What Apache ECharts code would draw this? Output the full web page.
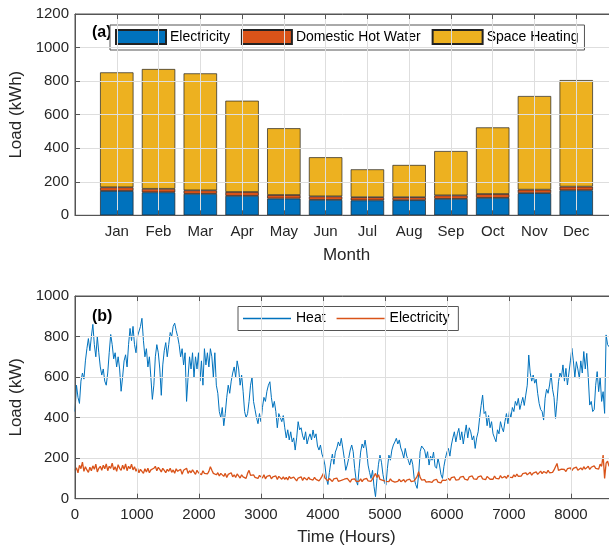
<!DOCTYPE html>
<html>
<head>
<meta charset="utf-8">
<script src="https://cdn.jsdelivr.net/npm/echarts/dist/echarts.min.js"></script>
<style>
html,body{margin:0;padding:0;background:#fff;}
#chart{width:609px;height:552px;}
</style>
</head>
<body>
<div id="chart"></div>
<script>
// ---- Panel (a): monthly loads (kWh) ----
const months = ["Jan","Feb","Mar","Apr","May","Jun","Jul","Aug","Sep","Oct","Nov","Dec"];
const electricity = [145,137,128,116,100,92,89,90,98,104,132,149];
const hotWater    = [22,21,21,23,21,21,19,18,21,23,21,22];
const spaceHeating= [685,714,697,544,398,233,166,192,264,397,558,635];

// ---- Panel (b): hourly profile, read every 24 h (kW) ----
const stepHours = 24;
const heatLoad = [
430,560,500,470,580,620,590,680,740,790,
730,800,860,760,700,800,720,650,610,640,
580,560,620,720,810,760,690,720,650,700,
640,530,600,680,710,650,760,840,780,850,
760,720,800,800,850,890,780,700,740,650,
700,600,490,560,700,760,720,640,510,660,
730,770,700,760,820,800,850,866,830,800,
760,700,740,660,720,480,600,700,640,720,
600,700,640,720,580,680,560,740,660,720,
650,740,700,600,720,560,520,430,400,450,
360,420,500,560,520,580,620,650,600,680,
640,560,610,530,430,400,420,480,560,600,
480,440,400,370,420,380,450,500,480,530,
560,577,500,450,480,430,350,420,400,380,
410,350,300,340,290,330,280,300,240,300,
380,340,350,310,290,330,270,300,320,290,
339,300,320,260,240,265,220,200,166,100,
70,130,180,220,170,230,250,280,260,298,
250,200,140,166,200,240,265,232,150,90,
67,150,230,270,250,289,240,166,130,100,
140,60,10,100,170,215,180,120,80,67,
150,215,190,240,265,280,298,270,290,250,
230,200,248,210,190,166,200,170,100,70,
51,120,232,260,268,240,200,232,166,210,
190,230,160,150,200,166,120,100,160,200,
230,248,210,265,300,330,280,320,347,290,
330,270,320,364,300,350,330,290,310,248,
300,330,400,460,511,420,430,360,410,350,
380,320,300,281,340,320,380,350,330,380,
420,370,430,400,450,430,480,460,495,440,
470,500,460,511,560,709,620,580,610,570,
590,520,470,440,430,388,495,540,520,561,
618,540,500,396,480,577,620,600,660,580,
643,561,620,680,742,680,600,676,640,594,
680,620,726,640,717,600,462,480,430,440,
560,627,528,600,480,528,421,808,760,750,
780,720,790,760,800,780
];
const elecLoad = [
140,152,128,165,148,180,135,158,142,130,
155,138,162,145,170,132,150,160,140,165,
148,172,138,160,150,175,142,158,135,168,
150,140,165,145,172,138,160,148,170,142,
158,135,150,128,145,140,125,148,132,150,
128,142,135,150,160,138,155,145,132,150,
140,128,145,135,150,130,142,125,148,135,
130,145,120,140,132,150,125,138,128,142,
135,120,140,128,132,118,138,125,130,122,
135,158,140,125,132,118,128,112,125,118,
110,125,105,120,112,128,108,118,105,122,
115,102,118,108,112,100,125,140,115,108,
118,105,112,100,115,108,102,118,98,110,
105,115,98,108,100,112,95,110,102,96,
108,95,105,92,110,100,94,106,98,88,
102,95,108,90,104,98,92,106,96,100,
92,105,95,100,88,98,110,125,102,94,
88,100,92,85,98,90,102,86,95,90,
84,96,88,100,92,82,95,88,98,85,
92,86,98,84,95,90,100,88,94,86,
98,110,125,105,118,95,102,90,96,85,
92,84,98,88,95,82,90,86,96,84,
88,94,82,92,86,96,84,90,88,95,
110,133,105,92,86,94,82,90,84,92,
80,90,84,96,82,88,78,92,86,90,
95,100,90,104,96,108,92,100,94,106,
98,110,96,104,92,108,100,112,98,105,
95,108,100,112,98,106,94,110,102,96,
104,96,112,100,108,98,114,102,106,110,
100,116,106,112,104,118,108,122,110,116,
112,124,115,128,118,122,130,116,126,120,
132,120,128,136,124,134,130,126,140,128,
136,130,142,134,174,140,132,146,138,144,
134,148,140,152,138,150,144,156,140,148,
152,142,158,146,150,160,144,155,148,162,
150,158,146,170,160,215,100,175,185,160,
170,150,180,165,175,160
];

const FONT = '"Liberation Sans", Arial, Helvetica, sans-serif';
const TXT = '#262626';
const AX = '#555555';
const GRIDC = '#dedede';

const chart = echarts.init(document.getElementById('chart'), null, {renderer:'canvas'});

// category slots: an empty slot at each end so the months sit at 1..12 of a 0..13 range
const monthSlots = [''].concat(months, ['']);
function padded(arr){ return ['-'].concat(arr, ['-']); }
function hourly(arr){ return arr.map((v,i)=>[i*stepHours, v]); }

const barStyle = (c)=>({color:c, borderColor:'#222', borderWidth:0.7});
const plain = (v)=>String(v);

const option = {
  animation:false,
  backgroundColor:'#fff',
  textStyle:{fontFamily:FONT},
  grid:[
    {left:75, top:14, width:543, height:201.3, show:true, borderColor:AX, borderWidth:1, backgroundColor:'transparent', outerBoundsMode:'none', containLabel:false},
    {left:75, top:296, width:543, height:202.7, show:true, borderColor:AX, borderWidth:1, backgroundColor:'transparent', outerBoundsMode:'none', containLabel:false}
  ],
  xAxis:[
    {type:'category', gridIndex:0, data:monthSlots, boundaryGap:false, z:5,
     name:'Month', nameLocation:'middle', nameGap:32,
     nameTextStyle:{fontSize:17, color:TXT, fontFamily:FONT},
     axisLine:{show:true, lineStyle:{color:AX, width:1}},
     axisTick:{show:true, inside:true, length:5, interval:0, lineStyle:{color:AX}},
     axisLabel:{fontSize:15, color:TXT, fontFamily:FONT, margin:9, interval:0},
     splitLine:{show:true, interval:0, lineStyle:{color:GRIDC, width:1}}},
    {type:'category', gridIndex:0, data:monthSlots, boundaryGap:false, position:'top', z:5,
     axisLine:{show:true, lineStyle:{color:AX, width:1}},
     axisTick:{show:true, inside:true, length:5, interval:0, lineStyle:{color:AX}},
     axisLabel:{show:false}, splitLine:{show:false}},
    {type:'value', gridIndex:1, min:0, max:8760, interval:1000, z:5,
     name:'Time (Hours)', nameLocation:'middle', nameGap:30,
     nameTextStyle:{fontSize:17, color:TXT, fontFamily:FONT},
     axisLine:{show:true, lineStyle:{color:AX, width:1}},
     axisTick:{show:true, inside:true, length:5, lineStyle:{color:AX}},
     axisLabel:{fontSize:15, color:TXT, fontFamily:FONT, margin:9, showMaxLabel:false,
       formatter:(v)=> (v % 1000 === 0 ? String(v) : '')},
     splitLine:{show:true, lineStyle:{color:GRIDC, width:1}}},
    {type:'value', gridIndex:1, min:0, max:8760, interval:1000, position:'top', z:5,
     axisLine:{show:true, lineStyle:{color:AX, width:1}},
     axisTick:{show:true, inside:true, length:5, lineStyle:{color:AX}},
     axisLabel:{show:false}, splitLine:{show:false}}
  ],
  yAxis:[
    {type:'value', gridIndex:0, min:0, max:1200, interval:200, z:5,
     name:'Load (kWh)', nameLocation:'middle', nameGap:41, nameRotate:90,
     nameTextStyle:{fontSize:17, color:TXT, fontFamily:FONT},
     axisLine:{show:true, lineStyle:{color:AX, width:1}},
     axisTick:{show:true, inside:true, length:5, lineStyle:{color:AX}},
     axisLabel:{fontSize:15, color:TXT, fontFamily:FONT, margin:6, formatter:plain},
     splitLine:{show:true, lineStyle:{color:GRIDC, width:1}}},
    {type:'value', gridIndex:1, min:0, max:1000, interval:200, z:5,
     name:'Load (kW)', nameLocation:'middle', nameGap:41, nameRotate:90,
     nameTextStyle:{fontSize:17, color:TXT, fontFamily:FONT},
     axisLine:{show:true, lineStyle:{color:AX, width:1}},
     axisTick:{show:true, inside:true, length:5, lineStyle:{color:AX}},
     axisLabel:{fontSize:15, color:TXT, fontFamily:FONT, margin:6, formatter:plain},
     splitLine:{show:true, lineStyle:{color:GRIDC, width:1}}}
  ],
  legend:[
    {left:110, top:25, orient:'horizontal', padding:[4,6,5,5], itemGap:11,
     itemWidth:50, itemHeight:14, icon:'rect',
     backgroundColor:'#fff', borderColor:AX, borderWidth:1,
     textStyle:{fontSize:14, color:'#000', fontFamily:FONT, padding:[0,0,0,-1]},
     data:['Electricity','Domestic Hot Water','Space Heating']},
    {left:238, top:306.5, orient:'horizontal', padding:[4,5,4,5], itemGap:11,
     itemWidth:48, itemHeight:1.3, icon:'rect',
     backgroundColor:'#fff', borderColor:AX, borderWidth:1,
     textStyle:{fontSize:14, color:'#000', fontFamily:FONT, lineHeight:16},
     data:['Heat','Electricity ']}
  ],
  graphic:[
    {type:'text', left:92, top:25, z:1, style:{text:'(a)', font:'bold 16px "Liberation Sans", Arial, sans-serif', fill:'#000'}},
    {type:'text', left:92, top:309, z:1, style:{text:'(b)', font:'bold 16px "Liberation Sans", Arial, sans-serif', fill:'#000'}}
  ],
  series:[
    {name:'Electricity', type:'bar', xAxisIndex:0, yAxisIndex:0, stack:'m', barWidth:33.4,
     itemStyle:barStyle('#0072BD'), data:padded(electricity)},
    {name:'Domestic Hot Water', type:'bar', xAxisIndex:0, yAxisIndex:0, stack:'m', barWidth:33.4,
     itemStyle:barStyle('#D95319'), data:padded(hotWater)},
    {name:'Space Heating', type:'bar', xAxisIndex:0, yAxisIndex:0, stack:'m', barWidth:33.4,
     itemStyle:barStyle('#EDB120'), data:padded(spaceHeating)},
    {name:'Heat', type:'line', xAxisIndex:2, yAxisIndex:1, symbol:'none', showSymbol:false,
     lineStyle:{color:'#0072BD', width:1}, itemStyle:{color:'#0072BD'}, data:hourly(heatLoad)},
    {name:'Electricity ', type:'line', xAxisIndex:2, yAxisIndex:1, symbol:'none', showSymbol:false,
     lineStyle:{color:'#D95319', width:1.3}, itemStyle:{color:'#D95319'}, data:hourly(elecLoad)}
  ]
};
chart.setOption(option);
</script>
</body>
</html>
